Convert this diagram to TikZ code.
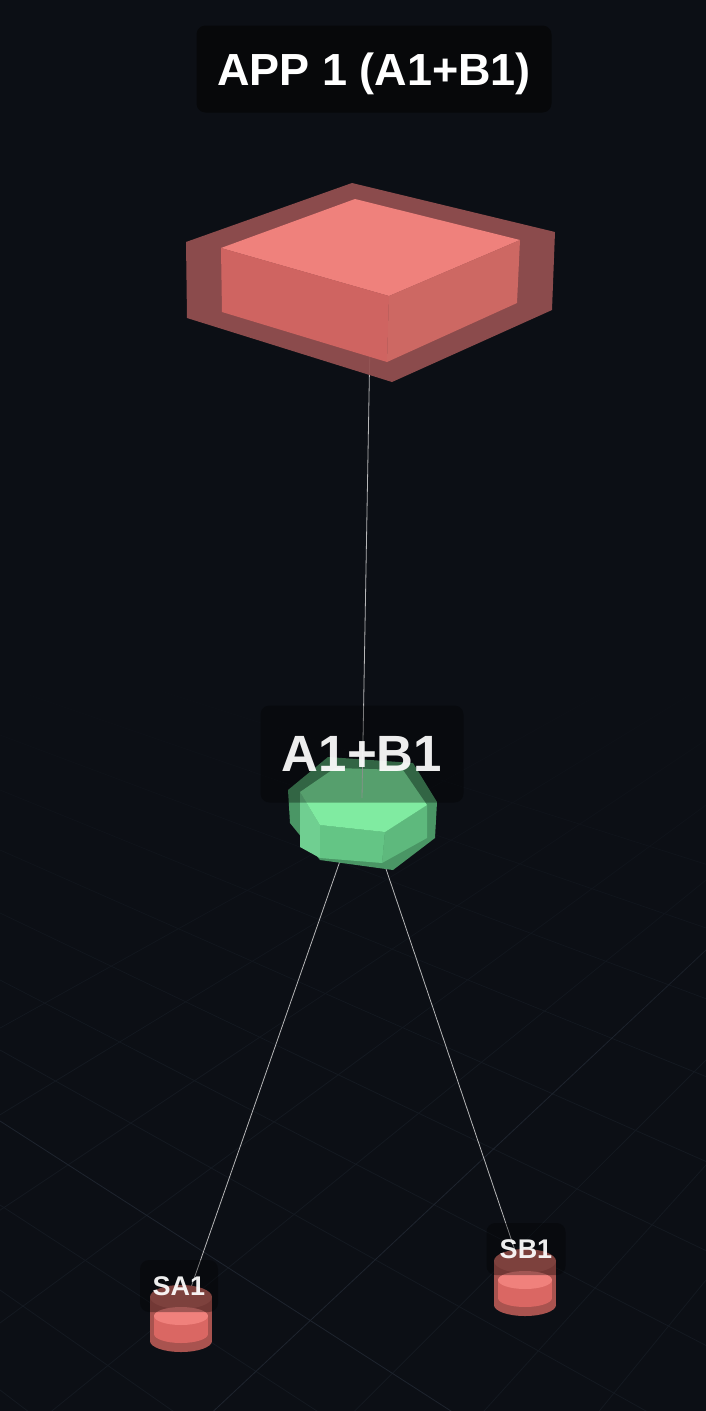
\documentclass[tikz,border=0pt]{standalone}
\usepackage{fontspec}
\setmainfont{Liberation Sans}
\usepackage{tikz}
\usetikzlibrary{fadings}

\definecolor{bgc}{HTML}{0C0F15}
\definecolor{gridc}{HTML}{141921}
\definecolor{gridmain}{HTML}{1E242E}
\definecolor{linkc}{HTML}{D4D4D4}
\definecolor{tagc}{HTML}{07080A}
\definecolor{appshell}{HTML}{924F4F}
\definecolor{apptop}{HTML}{EF817C}
\definecolor{appleft}{HTML}{CF6461}
\definecolor{appright}{HTML}{CD6863}
\definecolor{hexshell}{HTML}{4A9665}
\definecolor{hextop}{HTML}{80EBA1}
\definecolor{hexside}{HTML}{64C585}
\definecolor{hexsidel}{HTML}{70CF91}
\definecolor{cylshell}{HTML}{A9534F}
\definecolor{cylshelltop}{HTML}{B9605B}
\definecolor{cylbody}{HTML}{DA6763}
\definecolor{cyltop}{HTML}{F0817C}

\tikzset{
  link/.style={linkc, line width=0.8pt, opacity=0.85},
  tag/.style={fill=black, fill opacity=0.32, text=white, text opacity=0.93,
              rounded corners=9pt, inner sep=0pt, text depth=0pt, font=\bfseries},
}

% cylinder at (x, y) of its inner top face
\newcommand{\drawcyl}[2]{%
  \begin{scope}[shift={(#1,#2)}]
    \fill [cylshell] (-31,-19) rectangle (31,25);
    \fill [cylshell] (0,25) ellipse [x radius=31, y radius=11];
    \fill [cylshelltop] (0,-19) ellipse [x radius=31, y radius=12];
    \fill [cylbody] (-27,0) rectangle (27,18);
    \fill [cylbody] (0,18) ellipse [x radius=27, y radius=9];
    \fill [cyltop] (0,0) ellipse [x radius=27, y radius=9];
  \end{scope}}

\begin{document}
\begin{tikzpicture}[x=1pt, y=-1pt]
  \fill [bgc] (0,0) rectangle (706,1411);
  \useasboundingbox (0,0) rectangle (706,1411);

  % Draw floor grid.
  \begin{scope}
    \clip (0,0) rectangle (706,1411);
    \foreach \y in {640,685,735,790,850,913,980,1050,1205,1290,1390}
      \draw [gridc, line width=0.8pt] (0,\y) -- (706,{\y+0.4153*(\y-100)});
    \foreach \y in {635,685,740,805,880,1060,1165,1280,1410,1560,1730,1930,2160,2420}
      \draw [gridc, line width=0.8pt] (706,\y) -- (0,{\y+0.7347*(\y-100)});
    \draw [gridmain, line width=0.8pt] (0,1121) -- (706,1575);
    \draw [gridmain, line width=0.8pt] (0,1611) -- (706,950);
    \fill [bgc] (0,0) rectangle (706,650);
    \fill [bgc, path fading=south] (0,649) rectangle (706,1050);
  \end{scope}

  \coordinate (app) at (371,282);
  \coordinate (ab) at (362,798);
  \coordinate (sa) at (181,1316);
  \coordinate (sb) at (525,1280);

  % Draw links to the sources.
  \draw [link] (ab) -- (sa);
  \draw [link] (ab) -- (sb);

  % Draw sources.
  \drawcyl{181}{1316}
  \drawcyl{525}{1280}
  \node [tag, minimum width=78pt, minimum height=52pt,
         font=\bfseries\fontsize{27}{32}\selectfont] (salabel) at (179,1286) {SA1};
  \node [tag, minimum width=79pt, minimum height=52pt,
         font=\bfseries\fontsize{27}{32}\selectfont] (sblabel) at (526,1249) {SB1};

  % Draw hexagon.
  \fill [hexshell] (328,757) -- (413,763) -- (437,802) -- (435,838) --
        (393,870) -- (320,860) -- (290,823) -- (288,790) -- cycle;
  \fill [hexsidel] (300,792) -- (320,825) -- (320,858) -- (300,847) -- cycle;
  \fill [hexside] (320,825) -- (385,832) -- (382,863) -- (320,858) -- cycle;
  \fill [hexside!94!black] (385,832) -- (427,805) -- (427,838) -- (382,863) -- cycle;
  \fill [hextop] (300,792) -- (335,768) -- (403,770) -- (427,805) --
        (385,832) -- (320,825) -- cycle;

  % Draw link to the app.
  \draw [link] (app) -- (ab);

  % Draw app box.
  \fill [appshell, opacity=0.95] (352,183) -- (555,232) -- (552,310) --
        (392,382) -- (187,318) -- (186,242) -- cycle;
  \fill [apptop] (355,199) -- (520,240) -- (389,296) -- (221,248) -- cycle;
  \fill [appleft] (221,248) -- (389,296) -- (387,362) -- (222,312) -- cycle;
  \fill [appright] (389,296) -- (520,240) -- (517,303) -- (387,362) -- cycle;

  \node [tag, minimum width=203pt, minimum height=97pt,
         font=\bfseries\fontsize{51}{60}\selectfont] (ablabel) at (362,754) {A1+B1};
  \node [tag, fill=tagc, fill opacity=1, text opacity=1, minimum width=355pt,
         minimum height=87pt, font=\bfseries\fontsize{45}{54}\selectfont]
        (applabel) at (374,69) {APP 1 (A1+B1)};
\end{tikzpicture}
\end{document}
